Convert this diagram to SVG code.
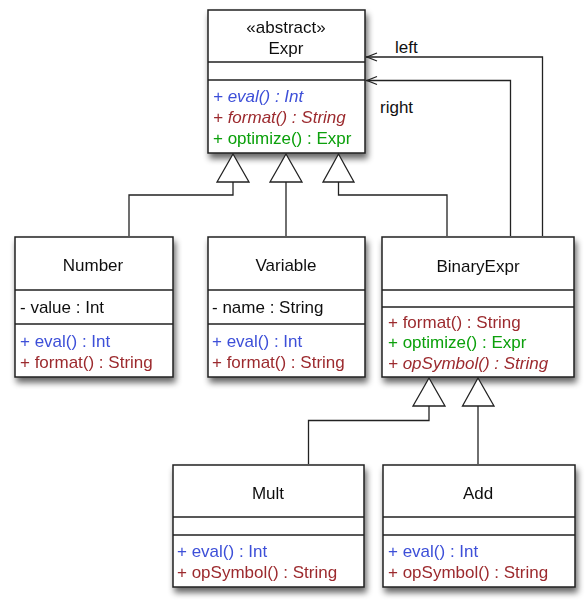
<svg xmlns="http://www.w3.org/2000/svg" width="587" height="605" viewBox="0 0 587 605">
<defs>
<filter id="sh" x="-10%" y="-10%" width="125%" height="130%">
<feGaussianBlur in="SourceAlpha" stdDeviation="3"/>
<feOffset dx="2" dy="5" result="b"/>
<feComponentTransfer><feFuncA type="linear" slope="0.6"/></feComponentTransfer>
<feMerge><feMergeNode/><feMergeNode in="SourceGraphic"/></feMerge>
</filter>
<marker id="open" markerWidth="14" markerHeight="12" refX="12" refY="5" orient="auto" markerUnits="userSpaceOnUse">
<path d="M1,1 L11,5 L1,9" fill="none" stroke="#222" stroke-width="1.3"/>
</marker>
</defs>
<style>
.box{fill:#fff;stroke:#222;stroke-width:1.5}
.div{stroke:#222;stroke-width:1.5}
text{font-family:"Liberation Sans",Arial,sans-serif;font-size:17px;fill:#111}
.c{text-anchor:middle}
.b{fill:#3d4fd8}
.r{fill:#9c2a2e}
.g{fill:#0aa00a}
.i{font-style:italic}
.ln{fill:none;stroke:#222;stroke-width:1.3}
.tri{fill:#fff;stroke:#222;stroke-width:1.3}
</style>
<rect width="587" height="605" fill="#fff"/>

<g id="Expr" filter="url(#sh)">
<rect class="box" x="208" y="10" width="157" height="143"/>
<line class="div" x1="208" y1="62" x2="365" y2="62"/>
<line class="div" x1="208" y1="80" x2="365" y2="80"/>
<text class="c" x="286" y="33">«abstract»</text>
<text class="c" x="286" y="54">Expr</text>
<text class="b i" x="213" y="102">+ eval() : Int</text>
<text class="r i" x="213" y="123">+ format() : String</text>
<text class="g" x="213" y="144">+ optimize() : Expr</text>
</g>

<g id="Number" filter="url(#sh)">
<rect class="box" x="15" y="237" width="158" height="140"/>
<line class="div" x1="15" y1="290" x2="173" y2="290"/>
<line class="div" x1="15" y1="324" x2="173" y2="324"/>
<text class="c" x="93" y="271">Number</text>
<text x="20" y="313">- value : Int</text>
<text class="b" x="20" y="347">+ eval() : Int</text>
<text class="r" x="20" y="368">+ format() : String</text>
</g>

<g id="Variable" filter="url(#sh)">
<rect class="box" x="208" y="237" width="157" height="140"/>
<line class="div" x1="208" y1="290" x2="365" y2="290"/>
<line class="div" x1="208" y1="324" x2="365" y2="324"/>
<text class="c" x="286" y="271">Variable</text>
<text x="212" y="313">- name : String</text>
<text class="b" x="212" y="347">+ eval() : Int</text>
<text class="r" x="212" y="368">+ format() : String</text>
</g>

<g id="BinaryExpr" filter="url(#sh)">
<rect class="box" x="382" y="237" width="192" height="140"/>
<line class="div" x1="382" y1="290" x2="574" y2="290"/>
<line class="div" x1="382" y1="307" x2="574" y2="307"/>
<text class="c" x="478" y="272">BinaryExpr</text>
<text class="r" x="388" y="328">+ format() : String</text>
<text class="g" x="388" y="348">+ optimize() : Expr</text>
<text class="r i" x="388" y="369">+ opSymbol() : String</text>
</g>

<g id="Mult" filter="url(#sh)">
<rect class="box" x="173" y="465" width="191" height="122"/>
<line class="div" x1="173" y1="517" x2="364" y2="517"/>
<line class="div" x1="173" y1="535" x2="364" y2="535"/>
<text class="c" x="268" y="499">Mult</text>
<text class="b" x="177" y="557">+ eval() : Int</text>
<text class="r" x="177" y="578">+ opSymbol() : String</text>
</g>

<g id="Add" filter="url(#sh)">
<rect class="box" x="383" y="465" width="192" height="122"/>
<line class="div" x1="383" y1="517" x2="575" y2="517"/>
<line class="div" x1="383" y1="535" x2="575" y2="535"/>
<text class="c" x="478" y="499">Add</text>
<text class="b" x="388" y="557">+ eval() : Int</text>
<text class="r" x="388" y="578">+ opSymbol() : String</text>
</g>

<g id="connectors">
<polyline class="ln" points="233,182 233,195 129,195 129,236"/>
<polyline class="ln" points="286,182 286,236"/>
<polyline class="ln" points="338.5,182 338.5,195 447,195 447,236"/>
<polygon class="tri" points="233,154 217,182 249,182"/>
<polygon class="tri" points="286,154 270,182 302,182"/>
<polygon class="tri" points="338.5,154 323,182 354,182"/>
<polyline class="ln" points="542.5,236 542.5,57 366,57" marker-end="url(#open)"/>
<polyline class="ln" points="510.5,236 510.5,80.5 366,80.5" marker-end="url(#open)"/>
<text x="395" y="53">left</text>
<text x="380" y="113">right</text>
<polyline class="ln" points="429,406 429,420.5 308.5,420.5 308.5,464"/>
<polyline class="ln" points="478,406 478,464"/>
<polygon class="tri" points="429,378 413,406 445,406"/>
<polygon class="tri" points="478,378 462.5,406 494,406"/>
</g>
</svg>
